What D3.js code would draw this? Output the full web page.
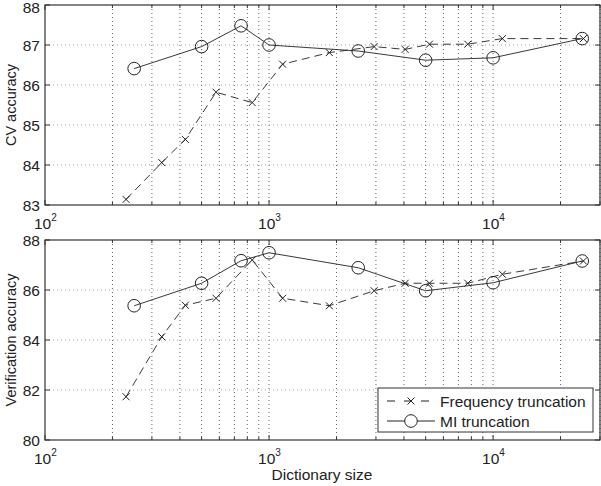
<!DOCTYPE html>
<html>
<head>
<meta charset="utf-8">
<script src="https://cdn.jsdelivr.net/npm/d3@7"></script>
<style>
  body { margin: 0; background: #fff; }
  svg text { font-family: "Liberation Sans", Arial, sans-serif; fill: #222; }
</style>
</head>
<body>
<div id="chart"></div>
<script>
// dictionary sizes
var freqSizes = [230, 332, 423, 580, 841, 1150, 1858, 2944, 4050, 5200, 7710, 11000, 25300];
var miSizes = [250, 500, 750, 1000, 2500, 5000, 10000, 25000];

// CV accuracy (top panel)
var cvFreq = [83.14, 84.06, 84.64, 85.82, 85.56, 86.52, 86.81, 86.96, 86.89, 87.02, 87.02, 87.16, 87.16];
var cvMI = [86.41, 86.96, 87.48, 87.0, 86.85, 86.62, 86.68, 87.16];

// verification accuracy (bottom panel)
var verFreq = [81.73, 84.13, 85.39, 85.67, 87.2, 85.67, 85.37, 85.97, 86.27, 86.27, 86.27, 86.63, 87.16];
var verMI = [85.37, 86.27, 87.17, 87.49, 86.89, 85.97, 86.29, 87.16];

var cvTicks = [83, 84, 85, 86, 87, 88];
var verTicks = [80, 82, 84, 86, 88];
var legendLabels = ["Frequency truncation", "MI truncation"];

var svgWidth = 601, svgHeight = 486;
var left = 45, right = 600;

var svg = d3.select("#chart").append("svg")
  .attr("width", svgWidth)
  .attr("height", svgHeight);

var x = d3.scaleLog().domain([100, 30000]).range([left, right]);

// minor tick positions for the log grid
var minorTicks = [];
[100, 1000, 10000].forEach(function (d) {
  for (var k = 1; k <= 9; k++) {
    var v = d * k;
    if (v <= 30000) minorTicks.push(v);
  }
});
var majorTicks = [100, 1000, 10000];

function drawPanel(top, bottom, yDomain, yTicks, freqVals, miVals, yLabel) {
  var y = d3.scaleLinear().domain(yDomain).range([bottom, top]);
  var g = svg.append("g");

  // grid
  g.selectAll(".vgrid")
    .data(minorTicks.filter(d => d > 100))
    .enter().append("line")
    .attr("x1", d => x(d)).attr("x2", d => x(d))
    .attr("y1", top).attr("y2", bottom)
    .attr("stroke", "#555")
    .attr("stroke-width", 0.9)
    .attr("stroke-dasharray", "1,3");

  g.selectAll(".hgrid")
    .data(yTicks.slice(1, -1))
    .enter().append("line")
    .attr("x1", left).attr("x2", right)
    .attr("y1", d => y(d)).attr("y2", d => y(d))
    .attr("stroke", "#999")
    .attr("stroke-width", 0.9)
    .attr("stroke-dasharray", "1,3");

  // tick marks inside, on all sides
  g.selectAll(".xt")
    .data(minorTicks)
    .enter().append("path")
    .attr("d", function (d) {
      var len = majorTicks.indexOf(d) >= 0 ? 5 : 3;
      var xx = x(d);
      return "M" + xx + "," + bottom + "v" + (-len) + "M" + xx + "," + top + "v" + len;
    })
    .attr("stroke", "#333");

  g.selectAll(".yt")
    .data(yTicks)
    .enter().append("path")
    .attr("d", d => "M" + left + "," + y(d) + "h5M" + right + "," + y(d) + "h-5")
    .attr("stroke", "#333");

  // frame
  g.append("rect")
    .attr("x", left).attr("y", top)
    .attr("width", right - left).attr("height", bottom - top)
    .attr("fill", "none")
    .attr("stroke", "#333")
    .attr("stroke-width", 1.2);

  // y tick labels
  g.selectAll(".yl")
    .data(yTicks)
    .enter().append("text")
    .attr("x", left - 5)
    .attr("y", d => Math.max(y(d) + 5.5, 12.5))
    .attr("text-anchor", "end")
    .attr("font-size", "15.5px")
    .text(d => d);

  // x tick labels 10^n
  var xl = g.selectAll(".xl")
    .data(majorTicks)
    .enter().append("text")
    .attr("x", d => x(d) - 11)
    .attr("y", bottom + 24)
    .attr("font-size", "15.5px");
  xl.append("tspan").text("10");
  xl.append("tspan")
    .attr("dy", -8)
    .attr("font-size", "10px")
    .text(d => Math.round(Math.log10(d)));

  // y axis label
  g.append("text")
    .attr("transform", "translate(16," + ((top + bottom) / 2) + ") rotate(-90)")
    .attr("text-anchor", "middle")
    .attr("font-size", "14.5px")
    .text(yLabel);

  // series
  var freqData = freqSizes.map((s, i) => [s, freqVals[i]]);
  var miData = miSizes.map((s, i) => [s, miVals[i]]);
  var line = d3.line().x(d => x(d[0])).y(d => y(d[1]));

  g.append("path")
    .datum(freqData)
    .attr("d", line)
    .attr("fill", "none")
    .attr("stroke", "#222")
    .attr("stroke-width", 0.9)
    .attr("stroke-dasharray", "8,5");

  g.selectAll(".fx")
    .data(freqData)
    .enter().append("path")
    .attr("d", function (d) {
      var cx = x(d[0]), cy = y(d[1]), s = 3.5;
      return "M" + (cx - s) + "," + (cy - s) + "L" + (cx + s) + "," + (cy + s) +
        "M" + (cx - s) + "," + (cy + s) + "L" + (cx + s) + "," + (cy - s);
    })
    .attr("stroke", "#222")
    .attr("stroke-width", 1);

  g.append("path")
    .datum(miData)
    .attr("d", line)
    .attr("fill", "none")
    .attr("stroke", "#222")
    .attr("stroke-width", 0.9);

  g.selectAll(".mc")
    .data(miData)
    .enter().append("circle")
    .attr("cx", d => x(d[0]))
    .attr("cy", d => y(d[1]))
    .attr("r", 6.3)
    .attr("fill", "none")
    .attr("stroke", "#222")
    .attr("stroke-width", 1);
}

drawPanel(5, 205, [83, 88], cvTicks, cvFreq, cvMI, "CV accuracy");
drawPanel(240, 440, [80, 88], verTicks, verFreq, verMI, "Verification accuracy");

// x axis title
svg.append("text")
  .attr("x", 322)
  .attr("y", 480)
  .attr("text-anchor", "middle")
  .attr("font-size", "15.5px")
  .text("Dictionary size");

// legend
var lg = svg.append("g");
lg.append("rect")
  .attr("x", 378).attr("y", 388)
  .attr("width", 215).attr("height", 44)
  .attr("fill", "#fff")
  .attr("stroke", "#333")
  .attr("stroke-width", 1);

var rows = [401, 421];
// frequency entry
lg.append("path")
  .attr("d", "M387," + rows[0] + "H435")
  .attr("stroke", "#222")
  .attr("stroke-dasharray", "8,9");
lg.append("path")
  .attr("d", "M407.5," + (rows[0] - 3.5) + "l7,7M407.5," + (rows[0] + 3.5) + "l7,-7")
  .attr("stroke", "#222");
// MI entry
lg.append("path")
  .attr("d", "M387," + rows[1] + "H435")
  .attr("stroke", "#222");
lg.append("circle")
  .attr("cx", 411).attr("cy", rows[1]).attr("r", 6.3)
  .attr("fill", "#fff").attr("stroke", "#222");

lg.selectAll(".lt")
  .data(legendLabels)
  .enter().append("text")
  .attr("x", 440)
  .attr("y", (d, i) => rows[i] + 5.5)
  .attr("font-size", "15.5px")
  .text(d => d);
</script>
</body>
</html>
